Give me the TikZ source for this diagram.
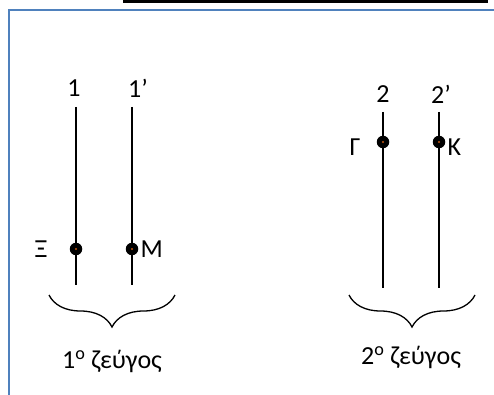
\documentclass[tikz,border=0pt]{standalone}
\usepackage{fontspec}
\setmainfont{Carlito}
\usepackage{xcolor}
\usetikzlibrary{positioning,decorations.pathreplacing}
\definecolor{frameblue}{RGB}{79,129,189}
\definecolor{dotcore}{RGB}{200,90,20}
\tikzset{
  lbl/.style={inner sep=0pt,font=\fontsize{26}{30}\selectfont},
  strand/.style={line width=1.6pt},
  jdot/.style={circle,fill=black,inner sep=0pt,minimum size=12.5pt,
    path picture={\fill[dotcore] (path picture bounding box.center) circle (1.2pt);}},
  brc/.style={decorate,decoration={brace,mirror,amplitude=32pt,aspect=0.5},line width=1.3pt},
}

\begin{document}
\begin{tikzpicture}[x=1pt,y=-1pt]
  \useasboundingbox (0,0) rectangle (494,395);
  % frame
  \draw[frameblue,line width=2pt] (9,395) -- (9,10) -- (494,10);
  \draw[line width=2.2pt] (123,1.6) -- (488,1.6);
  % first pair
  \coordinate (a1) at (76,107);  \coordinate (b1) at (76,285);
  \coordinate (a1p) at (132,107); \coordinate (b1p) at (132,285);
  \draw[strand] (a1) -- (b1);
  \draw[strand] (a1p) -- (b1p);
  \node[lbl] (n1) at (74,88) {1};
  \node[lbl] (n1p) at (138,88) {1’};
  \node[jdot] (xi) at (76,249) {};
  \node[jdot] (mu) at (132,249) {};
  \node[lbl,left=22pt of xi] (lxi) {Ξ};
  \node[lbl,right=2pt of mu] (lmu) {Μ};
  \coordinate (p1l) at (49,295); \coordinate (p1r) at (175,295);
  \draw[brc] (p1l) -- (p1r);
  \node[lbl] (z1) at (112,361) {1\textsuperscript{o} ζεύγος};
  % second pair
  \coordinate (a2) at (383,112);  \coordinate (b2) at (383,288);
  \coordinate (a2p) at (439,112); \coordinate (b2p) at (439,288);
  \draw[strand] (a2) -- (b2);
  \draw[strand] (a2p) -- (b2p);
  \node[lbl] (n2) at (383,94) {2};
  \node[lbl] (n2p) at (441,94) {2’};
  \node[jdot] (ga) at (383,142) {};
  \node[jdot] (ka) at (439,142) {};
  \node[lbl,left=16pt of ga,yshift=-5pt] (lga) {Γ};
  \node[lbl,right=2pt of ka,yshift=-5pt] (lka) {Κ};
  \coordinate (p2l) at (349,295); \coordinate (p2r) at (475,295);
  \draw[brc] (p2l) -- (p2r);
  \node[lbl] (z2) at (411,357) {2\textsuperscript{o} ζεύγος};
\end{tikzpicture}
\end{document}
